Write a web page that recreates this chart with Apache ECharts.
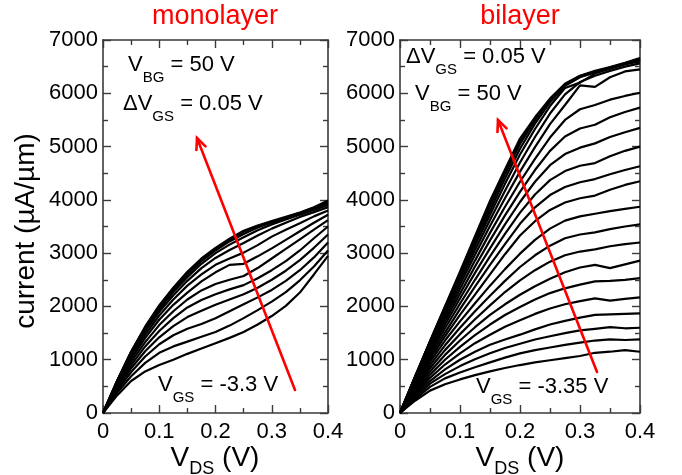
<!DOCTYPE html>
<html>
<head>
<meta charset="utf-8">
<script src="https://cdn.jsdelivr.net/npm/echarts@6/dist/echarts.min.js"></script>
<style>
html, body { margin: 0; padding: 0; background: #fff; }
#chart { width: 682px; height: 475px; }
</style>
</head>
<body>
<div id="chart"></div>
<script>
// Drain voltage sweep (V), shared by every curve
const vds = [0, 0.025, 0.05, 0.075, 0.1, 0.125, 0.15, 0.175, 0.2, 0.225, 0.25, 0.275, 0.3, 0.325, 0.35, 0.375, 0.4];

const xTickLabels = ['0', '0.1', '0.2', '0.3', '0.4'];
const yTickLabels = ['0', '1000', '2000', '3000', '4000', '5000', '6000', '7000'];

// Monolayer: gate voltages and drain current (µA/µm), lowest gate voltage first
const monoVgs = [-3.3, -3.25, -3.2, -3.15, -3.1, -3.05, -3.0, -2.95, -2.9, -2.85, -2.8, -2.75, -2.7];
const mono00 = [0, 330, 600, 780, 900, 1000, 1110, 1210, 1310, 1410, 1520, 1660, 1820, 2010, 2260, 2600, 2950];
const mono01 = [0, 380, 690, 940, 1130, 1250, 1340, 1430, 1520, 1640, 1780, 1930, 2090, 2270, 2490, 2750, 3050];
const mono02 = [0, 420, 770, 1060, 1290, 1460, 1580, 1670, 1780, 1910, 2040, 2170, 2310, 2480, 2680, 2920, 3200];
const mono03 = [0, 450, 840, 1160, 1420, 1630, 1800, 1920, 2030, 2130, 2230, 2350, 2500, 2670, 2870, 3100, 3350];
const mono04 = [0, 480, 900, 1250, 1540, 1780, 1980, 2120, 2230, 2320, 2400, 2530, 2680, 2850, 3050, 3280, 3500];
const mono05 = [0, 510, 960, 1330, 1650, 1910, 2130, 2300, 2420, 2500, 2570, 2720, 2900, 3080, 3260, 3440, 3620];
const mono06 = [0, 540, 1010, 1410, 1750, 2030, 2260, 2470, 2640, 2780, 2800, 2940, 3090, 3250, 3410, 3570, 3720];
const mono07 = [0, 560, 1050, 1470, 1830, 2130, 2390, 2600, 2780, 2900, 3010, 3150, 3310, 3440, 3560, 3690, 3800];
const mono08 = [0, 580, 1090, 1530, 1900, 2210, 2480, 2720, 2910, 3060, 3190, 3330, 3460, 3570, 3680, 3770, 3860];
const mono09 = [0, 590, 1120, 1570, 1950, 2270, 2550, 2800, 3000, 3160, 3300, 3430, 3540, 3630, 3720, 3810, 3900];
const mono10 = [0, 595, 1140, 1600, 1990, 2310, 2600, 2850, 3050, 3220, 3360, 3480, 3575, 3660, 3745, 3835, 3930];
const mono11 = [0, 600, 1150, 1610, 2010, 2340, 2630, 2880, 3080, 3250, 3400, 3510, 3590, 3670, 3755, 3850, 3960];
const mono12 = [0, 600, 1150, 1620, 2020, 2350, 2650, 2900, 3100, 3270, 3420, 3520, 3600, 3680, 3760, 3860, 3990];
const monoCurves = [mono00, mono01, mono02, mono03, mono04, mono05, mono06, mono07, mono08, mono09, mono10, mono11, mono12];

// Bilayer: gate voltages and drain current (µA/µm), lowest gate voltage first
const biVgs = [-3.35, -3.3, -3.25, -3.2, -3.15, -3.1, -3.05, -3.0, -2.95, -2.9, -2.85, -2.8, -2.75, -2.7, -2.65, -2.6, -2.55, -2.5, -2.45, -2.4, -2.35, -2.3, -2.25];
const bi00 = [0, 230, 420, 540, 630, 710, 780, 845, 900, 950, 990, 1030, 1070, 1130, 1150, 1180, 1150];
const bi01 = [0, 260, 490, 650, 760, 860, 950, 1040, 1120, 1180, 1230, 1280, 1320, 1360, 1380, 1370, 1380];
const bi02 = [0, 290, 550, 730, 880, 1010, 1120, 1220, 1300, 1380, 1440, 1500, 1550, 1580, 1610, 1590, 1600];
const bi03 = [0, 320, 600, 820, 1000, 1150, 1280, 1380, 1470, 1570, 1660, 1730, 1790, 1840, 1850, 1860, 1870];
const bi04 = [0, 350, 660, 910, 1120, 1310, 1470, 1620, 1740, 1860, 1960, 2040, 2100, 2150, 2110, 2140, 2170];
const bi05 = [0, 380, 720, 1000, 1240, 1460, 1660, 1840, 1990, 2130, 2250, 2340, 2410, 2470, 2480, 2500, 2530];
const bi06 = [0, 410, 780, 1090, 1360, 1610, 1840, 2040, 2220, 2380, 2520, 2640, 2730, 2780, 2720, 2790, 2860];
const bi07 = [0, 440, 840, 1180, 1480, 1760, 2020, 2270, 2490, 2680, 2840, 2960, 3030, 3070, 3130, 3170, 3200];
const bi08 = [0, 470, 900, 1270, 1600, 1910, 2200, 2480, 2740, 2960, 3140, 3280, 3350, 3390, 3450, 3500, 3540];
const bi09 = [0, 500, 960, 1360, 1720, 2060, 2390, 2700, 2990, 3250, 3460, 3610, 3690, 3740, 3790, 3830, 3870];
const bi10 = [0, 530, 1010, 1440, 1840, 2220, 2600, 2980, 3330, 3600, 3810, 3950, 4030, 4080, 4190, 4280, 4350];
const bi11 = [0, 560, 1060, 1510, 1950, 2370, 2780, 3170, 3550, 3860, 4090, 4240, 4330, 4390, 4480, 4560, 4630];
const bi12 = [0, 580, 1110, 1590, 2050, 2500, 2940, 3360, 3760, 4100, 4370, 4540, 4640, 4690, 4820, 4920, 5000];
const bi13 = [0, 600, 1150, 1660, 2150, 2630, 3090, 3540, 3960, 4340, 4650, 4860, 4980, 5060, 5180, 5270, 5350];
const bi14 = [0, 620, 1190, 1720, 2240, 2750, 3240, 3710, 4150, 4560, 4920, 5190, 5340, 5410, 5550, 5650, 5730];
const bi15 = [0, 640, 1230, 1780, 2330, 2860, 3380, 3870, 4340, 4770, 5170, 5500, 5700, 5780, 5880, 5950, 6010];
const bi16 = [0, 650, 1260, 1840, 2410, 2970, 3510, 4030, 4530, 4990, 5420, 5780, 6150, 6120, 6300, 6410, 6450];
const bi17 = [0, 660, 1290, 1890, 2480, 3060, 3620, 4170, 4700, 5180, 5620, 5980, 6210, 6330, 6420, 6500, 6560];
const bi18 = [0, 665, 1310, 1940, 2540, 3140, 3720, 4300, 4850, 5330, 5760, 6100, 6200, 6370, 6460, 6540, 6600];
const bi19 = [0, 670, 1320, 1960, 2580, 3200, 3800, 4400, 4960, 5430, 5830, 6140, 6300, 6390, 6470, 6550, 6620];
const bi20 = [0, 675, 1335, 1980, 2610, 3250, 3880, 4480, 5050, 5490, 5870, 6160, 6320, 6400, 6480, 6560, 6640];
const bi21 = [0, 678, 1345, 1990, 2630, 3290, 3930, 4530, 5110, 5520, 5890, 6170, 6325, 6410, 6485, 6560, 6650];
const bi22 = [0, 680, 1350, 2000, 2650, 3320, 3980, 4570, 5150, 5550, 5900, 6180, 6330, 6420, 6490, 6570, 6660];
const biCurves = [bi00, bi01, bi02, bi03, bi04, bi05, bi06, bi07, bi08, bi09, bi10, bi11, bi12, bi13, bi14, bi15, bi16, bi17, bi18, bi19, bi20, bi21, bi22];

const FONT = '"Liberation Sans", Arial, Helvetica, sans-serif';
const FRAME = '#3a3a3a';
// Canvas 'middle' sits this fraction of the font size above the alphabetic baseline
const MID_TO_BASE = 0.3465;

function xAxisCfg(gridIndex, position, withLabels) {
  return {
    type: 'value', gridIndex, position, min: 0, max: 0.4, interval: 0.1,
    axisLine: { show: true, onZero: false, lineStyle: { color: FRAME, width: 1.6 } },
    axisTick: { show: true, inside: true, length: 8, lineStyle: { color: FRAME, width: 1.4 } },
    minorTick: { show: true, splitNumber: 2, length: 5, lineStyle: { color: FRAME, width: 1.4 } },
    splitLine: { show: false },
    axisLabel: {
      show: withLabels, color: '#000', fontSize: 22, fontFamily: FONT, margin: 8,
      formatter: (v) => xTickLabels[Math.round(v / 0.1)]
    }
  };
}

function yAxisCfg(gridIndex, position, withLabels) {
  return {
    type: 'value', gridIndex, position, min: 0, max: 7000, interval: 1000,
    axisLine: { show: true, onZero: false, lineStyle: { color: FRAME, width: 1.6 } },
    axisTick: { show: true, inside: true, length: 8, lineStyle: { color: FRAME, width: 1.4 } },
    minorTick: { show: true, splitNumber: 2, length: 5, lineStyle: { color: FRAME, width: 1.4 } },
    splitLine: { show: false },
    axisLabel: {
      show: withLabels, color: '#000', fontSize: 22, fontFamily: FONT, margin: 5,
      formatter: (v) => yTickLabels[Math.round(v / 1000)]
    }
  };
}

function curveSeries(curves, names, axisIndex) {
  return curves.map((curve, k) => ({
    type: 'line',
    name: 'VGS = ' + names[k] + ' V',
    xAxisIndex: axisIndex, yAxisIndex: axisIndex,
    data: vds.map((v, i) => [v, curve[i]]),
    showSymbol: false, symbol: 'none',
    lineStyle: { color: '#000', width: 2.2 },
    silent: true, animation: false, z: 3
  }));
}

const measureCtx = document.createElement('canvas').getContext('2d');
function textWidth(str, size) {
  measureCtx.font = size + 'px ' + FONT;
  return measureCtx.measureText(str).width;
}

// Text made of pieces, some of them subscripts; (x, baseline) anchors the main baseline
function subText(x, baseline, parts, mainSize, subSize, drop, color, align) {
  const widths = parts.map(p => textWidth(p.t, p.sub ? subSize : mainSize));
  const total = widths.reduce((a, b) => a + b, 0);
  let cx = align === 'center' ? x - total / 2 : x;
  return parts.map((p, i) => {
    const size = p.sub ? subSize : mainSize;
    const base = baseline + (p.sub ? drop : 0);
    const el = {
      type: 'text', x: cx, y: base - MID_TO_BASE * size, z: 10, silent: true,
      style: { text: p.t, font: size + 'px ' + FONT, fill: color || '#000', align: 'left', verticalAlign: 'middle' }
    };
    cx += widths[i];
    return el;
  });
}

function arrow(x0, y0, x1, y1) {
  const dx = x1 - x0, dy = y1 - y0;
  const len = Math.hypot(dx, dy);
  const ux = dx / len, uy = dy / len;
  const L = 12, a = 0.42;
  const rot = (vx, vy, ang) => [vx * Math.cos(ang) - vy * Math.sin(ang), vx * Math.sin(ang) + vy * Math.cos(ang)];
  const b1 = rot(-ux, -uy, a), b2 = rot(-ux, -uy, -a);
  const style = { stroke: '#ff0000', lineWidth: 2.6, lineCap: 'round' };
  return [
    { type: 'line', z: 9, silent: true, shape: { x1: x0, y1: y0, x2: x1, y2: y1 }, style },
    { type: 'polyline', z: 9, silent: true,
      shape: { points: [[x1 + b1[0] * L, y1 + b1[1] * L], [x1, y1], [x1 + b2[0] * L, y1 + b2[1] * L]] },
      style: Object.assign({ fill: null, lineJoin: 'miter' }, style) }
  ];
}

function plainText(x, baseline, text, size, color, extra) {
  return Object.assign({
    type: 'text', x, y: baseline - MID_TO_BASE * size, silent: true, z: 10,
    style: { text, font: size + 'px ' + FONT, fill: color, align: 'center', verticalAlign: 'middle' }
  }, extra || {});
}

const chart = echarts.init(document.getElementById('chart'), null, { renderer: 'canvas' });

const option = {
  backgroundColor: '#fff',
  animation: false,
  grid: [
    { left: 103, top: 40, width: 225, height: 373 },
    { left: 400, top: 40, width: 240, height: 373 }
  ],
  xAxis: [
    xAxisCfg(0, 'bottom', true),
    xAxisCfg(0, 'top', false),
    xAxisCfg(1, 'bottom', true),
    xAxisCfg(1, 'top', false)
  ],
  yAxis: [
    yAxisCfg(0, 'left', true),
    yAxisCfg(0, 'right', false),
    yAxisCfg(1, 'left', true),
    yAxisCfg(1, 'right', false)
  ],
  series: [].concat(
    curveSeries(monoCurves, monoVgs, 0),
    curveSeries(biCurves, biVgs, 2)
  ),
  graphic: [].concat(
    [
      plainText(215, 26, 'monolayer', 27, '#ff0000'),
      plainText(520, 26, 'bilayer', 27, '#ff0000'),
      {
        type: 'text', x: 26, y: 231, rotation: Math.PI / 2, silent: true,
        style: { text: 'current (µA/µm)', font: '28px ' + FONT, fill: '#000', align: 'center', verticalAlign: 'middle' }
      }
    ],
    subText(215, 468, [{ t: 'V' }, { t: 'DS', sub: true }, { t: ' (V)' }], 28, 18, 7, '#000', 'center'),
    subText(520, 468, [{ t: 'V' }, { t: 'DS', sub: true }, { t: ' (V)' }], 28, 18, 7, '#000', 'center'),

    subText(128, 73, [{ t: 'V' }, { t: 'BG', sub: true }, { t: ' = 50 V' }], 22, 15, 10),
    subText(123, 112, [{ t: 'ΔV' }, { t: 'GS', sub: true }, { t: ' = 0.05 V' }], 22, 15, 10),
    subText(158, 393, [{ t: 'V' }, { t: 'GS', sub: true }, { t: ' = -3.3 V' }], 22, 15, 10),

    subText(406, 65, [{ t: 'ΔV' }, { t: 'GS', sub: true }, { t: ' = 0.05 V' }], 22, 15, 10),
    subText(415, 102, [{ t: 'V' }, { t: 'BG', sub: true }, { t: ' = 50 V' }], 22, 15, 10),
    subText(476, 395, [{ t: 'V' }, { t: 'GS', sub: true }, { t: ' = -3.35 V' }], 22, 15, 10),

    arrow(295, 390, 197, 138),
    arrow(597, 372, 498, 120)
  )
};

chart.setOption(option);
</script>
</body>
</html>
